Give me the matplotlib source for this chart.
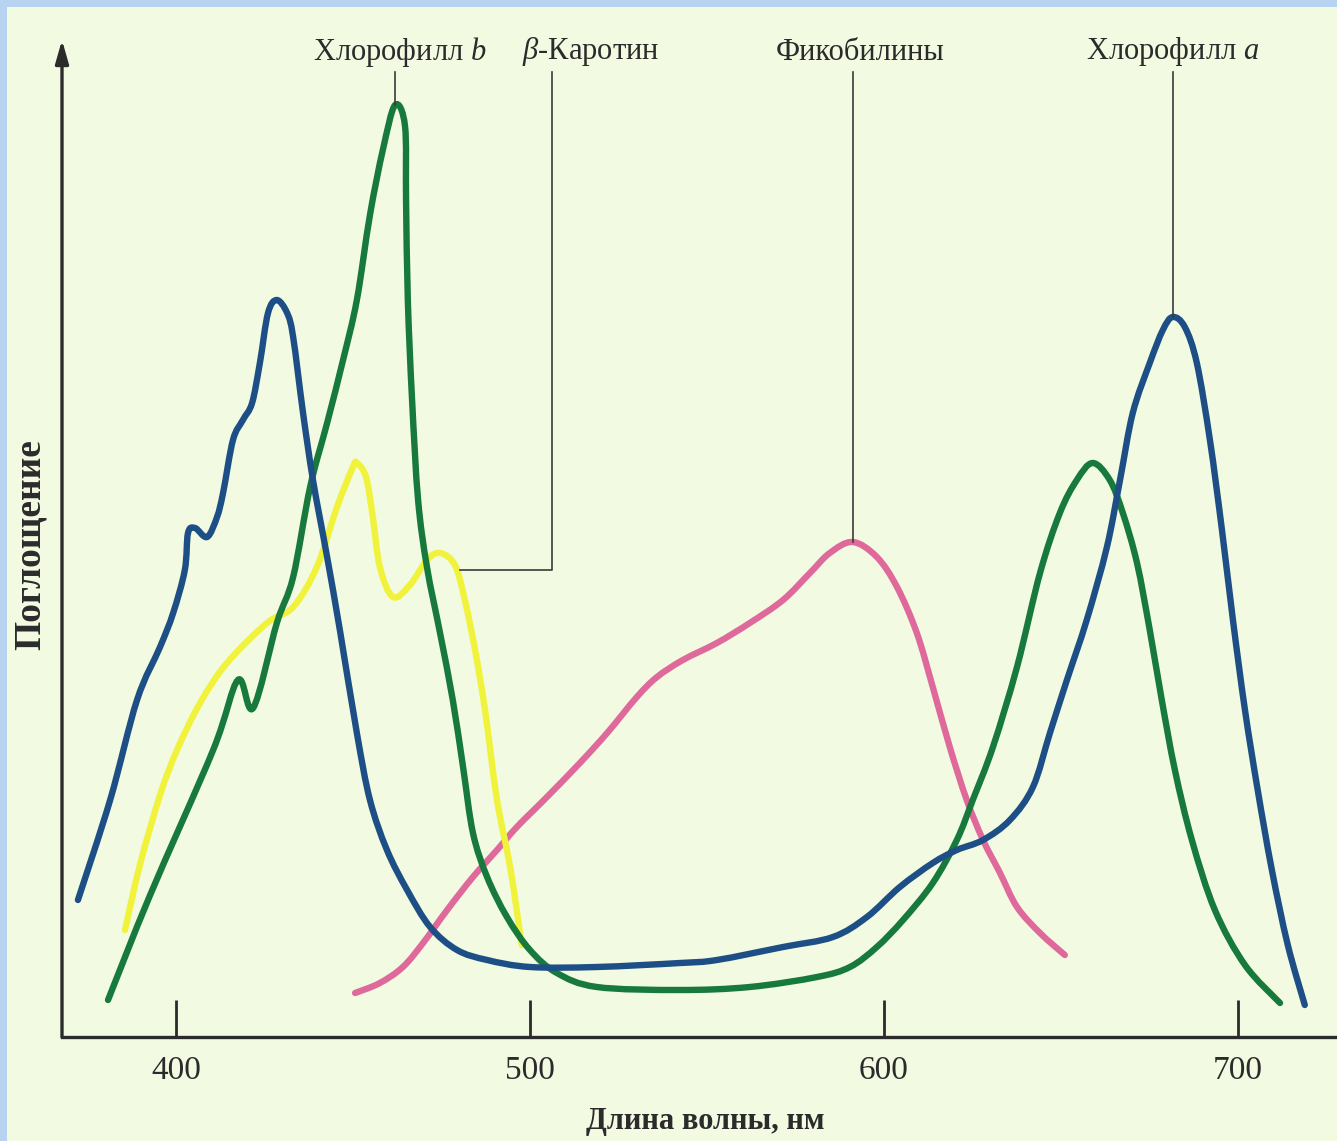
import numpy as np
import matplotlib
matplotlib.use("Agg")
import matplotlib.pyplot as plt
from matplotlib.patches import Rectangle, PathPatch
from matplotlib.path import Path

plt.rcParams["font.family"] = ["Liberation Serif", "DejaVu Serif"]
plt.rcParams["mathtext.fontset"] = "custom"
plt.rcParams["mathtext.it"] = "Liberation Serif:italic"
plt.rcParams["mathtext.rm"] = "Liberation Serif"

# absorption spectra, wavelength (nm) vs relative absorbance
chl_a_wl = [372.3, 381.4, 389.0, 395.5, 399.2, 402.5, 403.4, 405.4, 408.8, 411.6,
            413.3, 416.1, 418.9, 421.5, 423.7, 426.0, 428.5, 431.4, 433.1, 435.9,
            438.7, 442.7, 446.3, 451.1, 454.8, 459.6, 465.3, 471.8, 479.4, 487.9,
            500.0, 518.9, 542.4, 552.8, 571.5, 585.6, 595.2, 604.5, 613.8, 620.6,
            628.0, 635.6, 642.1, 646.9, 651.7, 657.3, 663.0, 666.7, 670.3, 675.1,
            678.8, 681.6, 685.0, 688.4, 692.1, 695.5, 698.6, 702.0, 705.6, 709.6,
            714.1, 718.9]
chl_a_abs = [13.7, 23.7, 33.7, 39.0, 42.4, 46.7, 50.4, 50.9, 50.0, 52.0,
             54.4, 59.7, 61.7, 63.4, 67.4, 72.4, 73.7, 72.4, 70.0, 62.4,
             55.7, 48.0, 40.7, 30.4, 23.7, 18.7, 14.7, 11.0, 8.7, 7.7,
             7.0, 7.0, 7.4, 7.7, 9.0, 10.0, 12.0, 15.0, 17.4, 18.7,
             19.7, 21.7, 25.0, 30.4, 35.7, 41.7, 49.0, 55.7, 62.4, 67.4,
             70.7, 72.0, 71.0, 67.4, 59.7, 50.7, 41.7, 32.7, 24.7, 16.7,
             9.2, 3.2]

chl_b_wl = [380.8, 392.7, 410.5, 417.5, 421.8, 428.5, 433.1, 437.9, 442.7, 447.2,
            451.1, 454.8, 458.5, 461.9, 464.7, 465.0, 465.5, 466.7, 468.4, 470.9,
            474.6, 478.2, 481.1, 483.9, 487.9, 493.5, 500.0, 507.6, 518.9, 542.4,
            562.1, 581.1, 590.4, 598.0, 605.4, 613.8, 620.6, 625.1, 630.8, 637.6,
            644.1, 649.7, 654.5, 659.0, 663.8, 667.5, 671.5, 675.1, 678.5, 682.2,
            687.0, 693.5, 702.0, 711.9]
chl_b_abs = [3.7, 14.2, 28.7, 35.7, 32.9, 41.4, 46.0, 55.0, 61.4, 67.7,
             73.7, 82.2, 88.8, 93.2, 91.1, 83.7, 73.7, 63.7, 53.7, 47.0,
             40.4, 33.7, 27.0, 20.4, 16.0, 12.0, 8.7, 6.4, 5.0, 4.7,
             5.0, 6.0, 7.0, 9.0, 11.7, 15.4, 19.7, 23.7, 29.0, 37.0,
             46.4, 52.4, 55.7, 57.4, 55.7, 52.4, 47.4, 40.7, 33.7, 26.7,
             19.7, 12.7, 7.2, 3.4]

carot_wl = [385.6, 389.8, 395.5, 400.3, 406.8, 414.4, 425.7, 433.1, 439.8, 445.5,
            450.0, 451.1, 453.7, 455.6, 457.6, 461.3, 466.1, 470.9, 474.6, 478.8,
            481.6, 484.5, 487.3, 490.7, 494.4, 497.2, 497.7]
carot_abs = [10.7, 17.2, 24.2, 28.7, 33.4, 37.4, 41.4, 43.0, 47.0, 53.0,
             57.0, 57.4, 56.0, 52.0, 47.0, 44.0, 45.2, 47.7, 48.4, 47.2,
             43.7, 38.7, 32.7, 23.7, 17.0, 10.4, 9.2]

phyco_wl = [450.6, 457.6, 464.1, 469.8, 476.6, 483.9, 490.7, 496.3, 504.8, 514.1,
            521.8, 530.2, 535.9, 543.2, 552.8, 562.1, 571.5, 579.1, 584.7, 591.2,
            598.0, 603.7, 609.3, 613.8, 618.6, 623.4, 628.0, 632.8, 637.6, 644.1,
            651.1]
phyco_abs = [4.4, 5.4, 7.0, 9.4, 12.7, 16.0, 18.7, 21.0, 24.0, 27.4,
             30.4, 34.0, 36.0, 37.7, 39.4, 41.4, 43.7, 46.4, 48.4, 49.5,
             48.0, 45.0, 40.4, 35.0, 29.0, 23.7, 19.7, 16.4, 13.0, 10.4,
             8.2]

xticks = [400, 500, 600, 700]

bg = "#f2fbe2"
frame_blue = "#b8d3ef"
ink = "#2b2b2b"
lead = "#3a3a3a"


def spectrum_path(xs, ys):
    """Cubic Bezier path passing through every measured point."""
    p = np.column_stack([xs, ys]).astype(float)
    ext = np.vstack([p[0], p, p[-1]])
    verts = [p[0]]
    codes = [Path.MOVETO]
    for k in range(len(p) - 1):
        p0, p1, p2, p3 = ext[k], ext[k + 1], ext[k + 2], ext[k + 3]
        verts += [p1 + (p2 - p0) / 6, p2 - (p3 - p1) / 6, p2]
        codes += [Path.CURVE4] * 3
    return Path(verts, codes)


def draw_spectrum(ax, xs, ys, color, z):
    ax.add_patch(PathPatch(spectrum_path(xs, ys), facecolor="none", edgecolor=color,
                           lw=4.6, capstyle="round", joinstyle="round", zorder=z))


fig = plt.figure(figsize=(13.37, 11.41), dpi=100)
fig.patch.set_facecolor(bg)
fig.patches.append(Rectangle((0, 0), 7 / 1337, 1, transform=fig.transFigure,
                             facecolor=frame_blue, edgecolor="none", zorder=-1))
fig.patches.append(Rectangle((0, 1 - 7 / 1141), 1, 7 / 1141, transform=fig.transFigure,
                             facecolor=frame_blue, edgecolor="none", zorder=-1))

ax = fig.add_axes([62 / 1337, 104 / 1141, 1275 / 1337, 997 / 1141])
ax.set_facecolor("none")
ax.set_xlim(367.8, 728.0)
ax.set_ylim(0, 99.7)

draw_spectrum(ax, phyco_wl, phyco_abs, "#e0699c", 2)
draw_spectrum(ax, carot_wl, carot_abs, "#f0f23c", 3)
draw_spectrum(ax, chl_b_wl, chl_b_abs, "#17793b", 4)
draw_spectrum(ax, chl_a_wl, chl_a_abs, "#1d4f86", 5)

# leader lines from peaks up to the labels
top = 96.5
lab_y = 98.5
i = int(np.argmax(chl_b_abs))
ax.plot([chl_b_wl[i], chl_b_wl[i]], [chl_b_abs[i], top], color=lead, lw=1.2, zorder=6)
ax.text(463.3, lab_y, r"Хлорофилл $b$", ha="center", va="center", fontsize=22, color=ink)

ax.plot([480.2, 506.2, 506.2], [46.7, 46.7, top], color=lead, lw=1.2, zorder=6)
ax.text(517.2, lab_y, r"$\beta$-Каротин", ha="center", va="center", fontsize=22, color=ink)

i = int(np.argmax(phyco_abs))
ax.plot([phyco_wl[i], phyco_wl[i]], [phyco_abs[i], top], color=lead, lw=1.2, zorder=6)
ax.text(593.2, lab_y, "Фикобилины", ha="center", va="center", fontsize=22, color=ink)

# red band maximum of chlorophyll a
red = [k for k, w in enumerate(chl_a_wl) if w > 600]
i = red[int(np.argmax([chl_a_abs[k] for k in red]))]
ax.plot([chl_a_wl[i], chl_a_wl[i]], [chl_a_abs[i], top], color=lead, lw=1.2, zorder=6)
ax.text(681.6, lab_y, r"Хлорофилл $a$", ha="center", va="center", fontsize=22, color=ink)

# axes: bottom line, vertical arrow
for s in ["top", "right", "left"]:
    ax.spines[s].set_visible(False)
ax.spines["bottom"].set_color(ink)
ax.spines["bottom"].set_linewidth(2.4)
ax.annotate("", xy=(0, 1.0), xytext=(0, 0), xycoords="axes fraction",
            arrowprops=dict(arrowstyle="-|>,head_length=1.4,head_width=0.4",
                            color=ink, lw=2.4, shrinkA=0, shrinkB=0),
            annotation_clip=False)

ax.set_xticks(xticks)
ax.set_xticklabels([str(t) for t in xticks])
ax.set_yticks([])
ax.tick_params(axis="x", direction="in", length=27, width=2, color=ink,
               pad=13, labelsize=24, labelcolor=ink)

fig.text(30 / 1337, 1 - 545 / 1141, "Поглощение", rotation=90, ha="center",
         va="center", fontsize=27, fontweight="bold", color=ink)
fig.text(705 / 1337, 1 - 1122 / 1141, "Длина волны, нм", ha="center",
         va="center", fontsize=22, fontweight="bold", color=ink)

fig.savefig("out.png", dpi=100, facecolor=fig.get_facecolor())
